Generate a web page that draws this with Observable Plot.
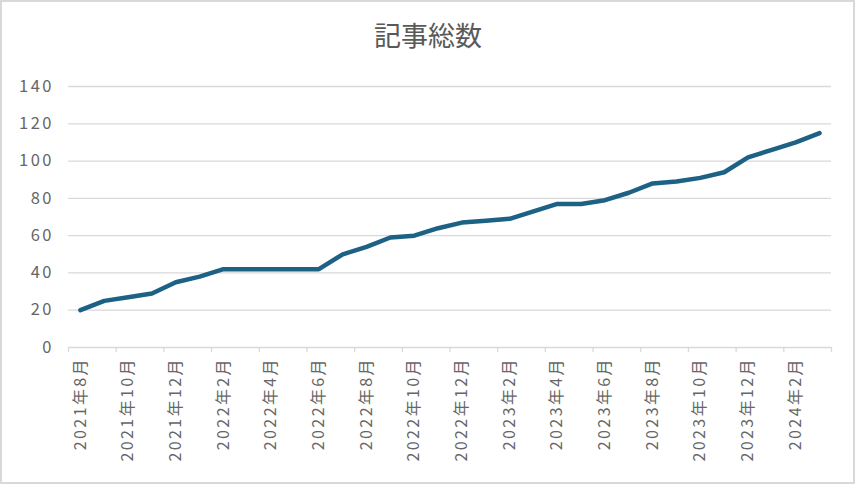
<!DOCTYPE html>
<html>
<head>
<meta charset="utf-8">
<script src="https://cdn.jsdelivr.net/npm/d3@7"></script>
<script src="https://cdn.jsdelivr.net/npm/@observablehq/plot@0.6"></script>
<style>
  html, body { margin: 0; padding: 0; background: #fff; }
  #wrap { position: relative; width: 855px; height: 484px; }
  #border { position: absolute; left: 0; top: 0; width: 855px; height: 484px; box-sizing: border-box; border: 2px solid #d9d9d9; pointer-events: none; }
  g[aria-label="x-axis tick label"] text { letter-spacing: 2.4px; }
  g[aria-label="y-axis tick label"] text { letter-spacing: 2.5px; }
</style>
</head>
<body>
<div id="wrap"><div id="border"></div></div>
<script>
const title = "記事総数";
const months = [
  "2021年8月","2021年9月","2021年10月","2021年11月","2021年12月",
  "2022年1月","2022年2月","2022年3月","2022年4月","2022年5月","2022年6月",
  "2022年7月","2022年8月","2022年9月","2022年10月","2022年11月","2022年12月",
  "2023年1月","2023年2月","2023年3月","2023年4月","2023年5月","2023年6月",
  "2023年7月","2023年8月","2023年9月","2023年10月","2023年11月","2023年12月",
  "2024年1月","2024年2月","2024年3月"
];
const counts = [20,25,27,29,35,38,42,42,42,42,42,50,54,59,60,64,67,68,69,73,77,77,79,83,88,89,91,94,102,106,110,115];
const yTicks = [0,20,40,60,80,100,120,140];

const data = months.map((m, i) => ({i, m, v: counts[i]}));
const labelIdx = months.map((m, i) => i).filter(i => i % 2 === 0);
const boundaries = labelIdx.map(i => i - 0.5).concat([months.length - 0.5]);

const font = "'Noto Sans CJK JP', 'Noto Sans', sans-serif";
const chart = Plot.plot({
  width: 855,
  height: 484,
  marginLeft: 68,
  marginRight: 24,
  marginTop: 86,
  marginBottom: 137,
  style: {fontFamily: font, fontSize: "16px", color: "#595959", background: "transparent"},
  x: {type: "linear", domain: [-0.5, months.length - 0.5]},
  y: {domain: [0, 140]},
  marks: [
    Plot.gridY(yTicks, {stroke: "#d9d9d9", strokeOpacity: 1, strokeWidth: 1.3}),
    Plot.axisY(yTicks, {tickSize: 0, tickPadding: 14.5, fontSize: 16.5, fill: "#666666", label: null}),
    Plot.axisX(boundaries, {tickSize: 5, tickFormat: () => "", stroke: "#d9d9d9", strokeWidth: 1.3, label: null}),
    Plot.axisX(labelIdx, {tickSize: 0, tickPadding: 9.5, tickRotate: -90, tickFormat: i => months[i], fontSize: 16, fill: "#666666", label: null}),
    Plot.line(data, {x: "i", y: "v", stroke: "#1d6185", strokeWidth: 4.5, strokeLinejoin: "round", strokeLinecap: "round"}),
    Plot.text([title], {frameAnchor: "top", dy: -60, dx: -22, fontSize: 27, fill: "#595959"})
  ]
});
document.getElementById("wrap").prepend(chart);
</script>
</body>
</html>
